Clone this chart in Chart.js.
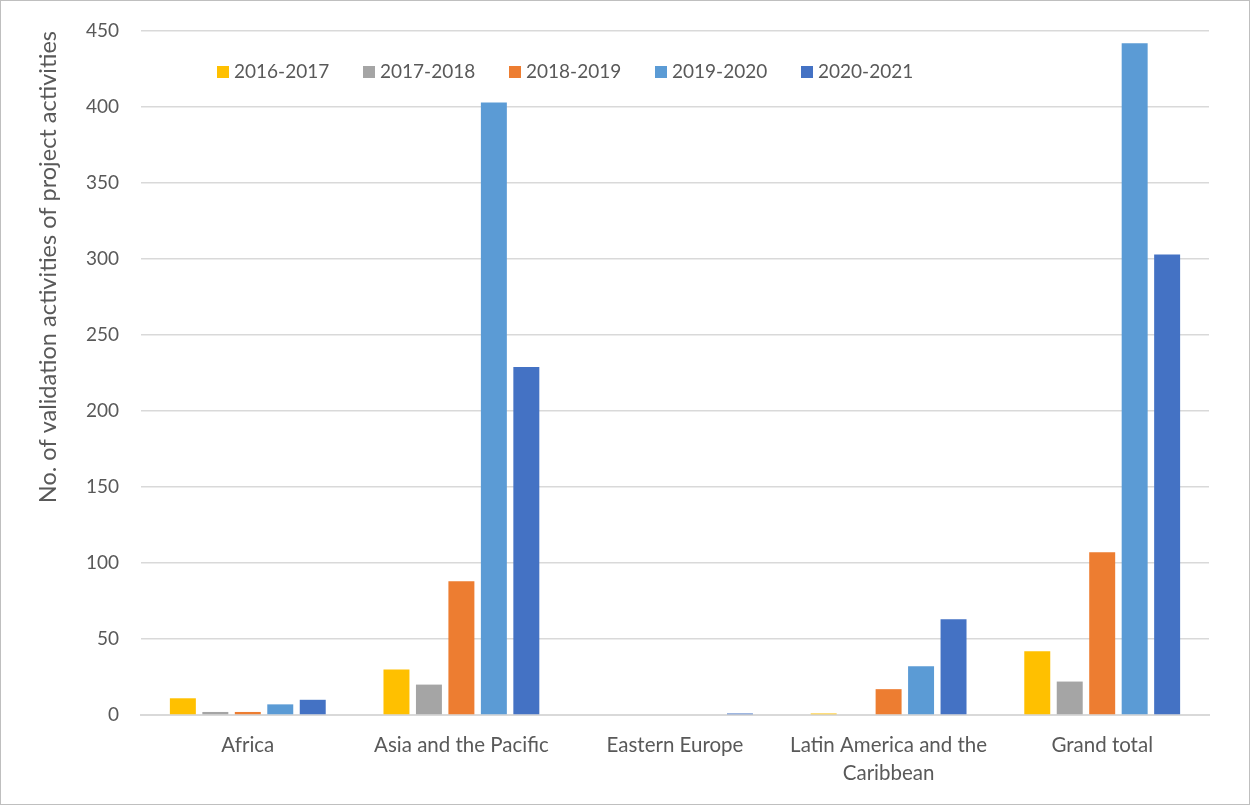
<!DOCTYPE html>
<html>
<head>
<meta charset="utf-8">
<script src="https://cdn.jsdelivr.net/npm/chart.js@4/dist/chart.umd.min.js"></script>
<style>
  body { margin: 0; background: #fff; }
  .chart-box {
    width: 1250px; height: 805px; box-sizing: border-box;
    border: 1px solid #bfbfbf; background: #fff; position: relative;
  }
</style>
</head>
<body>
<div class="chart-box"><canvas id="validationChart"></canvas></div>
<script>
// regions on the x axis
const regions = ['Africa', 'Asia and the Pacific', 'Eastern Europe', ['Latin America and the', 'Caribbean'], 'Grand total'];

// validation activities per reporting period
const period2016 = [11, 30, 0, 1, 42];
const period2017 = [2, 20, 0, 0, 22];
const period2018 = [2, 88, 0, 17, 107];
const period2019 = [7, 403, 0, 32, 442];
const period2020 = [10, 229, 1, 63, 303];

const periodLabels = ['2016-2017', '2017-2018', '2018-2019', '2019-2020', '2020-2021'];
const periodColors = ['#FFC000', '#A5A5A5', '#ED7D31', '#5B9BD5', '#4472C4'];

const yTicks = { min: 0, max: 450, step: 50 };

const textColor = '#595959';
const fontFamily = 'Lato, "Liberation Sans", sans-serif';

// legend drawn inside the plot area, top-left
const insideLegend = {
    id: 'insideLegend',
    afterDraw(chart) {
        const ctx = chart.ctx;
        const area = chart.chartArea;
        let x = area.left + 76;
        const y = area.top + 41;
        ctx.save();
        ctx.font = '19px ' + fontFamily;
        ctx.textBaseline = 'middle';
        ctx.textAlign = 'left';
        chart.data.datasets.forEach(ds => {
            ctx.fillStyle = ds.backgroundColor;
            ctx.fillRect(x, y - 6, 12, 12);
            ctx.fillStyle = textColor;
            ctx.fillText(ds.label, x + 17, y);
            x += 146;
        });
        ctx.restore();
    }
};

const seriesValues = [period2016, period2017, period2018, period2019, period2020];

new Chart(document.getElementById('validationChart'), {
    type: 'bar',
    data: {
        labels: regions,
        datasets: seriesValues.map((values, i) => ({
            label: periodLabels[i],
            data: values,
            backgroundColor: periodColors[i],
            categoryPercentage: 0.76,
            barPercentage: 0.8
        }))
    },
    options: {
        responsive: true,
        maintainAspectRatio: false,
        animation: false,
        layout: {
            padding: { top: 30, right: 40, bottom: 0, left: 0 }
        },
        plugins: {
            legend: { display: false },
            tooltip: { enabled: false }
        },
        scales: {
            x: {
                grid: { display: false, drawTicks: false },
                border: { color: '#d9d9d9', width: 2 },
                ticks: {
                    color: textColor,
                    font: { family: fontFamily, size: 20.5, lineHeight: 1.35 },
                    padding: 17,
                    maxRotation: 0,
                    autoSkip: false
                },
                afterFit(scale) { scale.height = 89; }
            },
            y: {
                min: yTicks.min,
                max: yTicks.max,
                // invisible tick marks push the labels away from the plot
                grid: { color: '#d9d9d9', lineWidth: 1.5, drawTicks: true, tickLength: 14, tickColor: 'rgba(0,0,0,0)' },
                border: { display: false },
                ticks: {
                    stepSize: yTicks.step,
                    color: textColor,
                    font: { family: fontFamily, size: 19 },
                    padding: 8
                },
                title: {
                    display: true,
                    text: 'No. of validation activities of project activities',
                    align: 'end',
                    color: textColor,
                    font: { family: fontFamily, size: 23.5 },
                    padding: { top: 33, bottom: 0 }
                },
                afterFit(scale) { scale.width = 140; }
            }
        }
    },
    plugins: [insideLegend]
});
</script>
</body>
</html>
